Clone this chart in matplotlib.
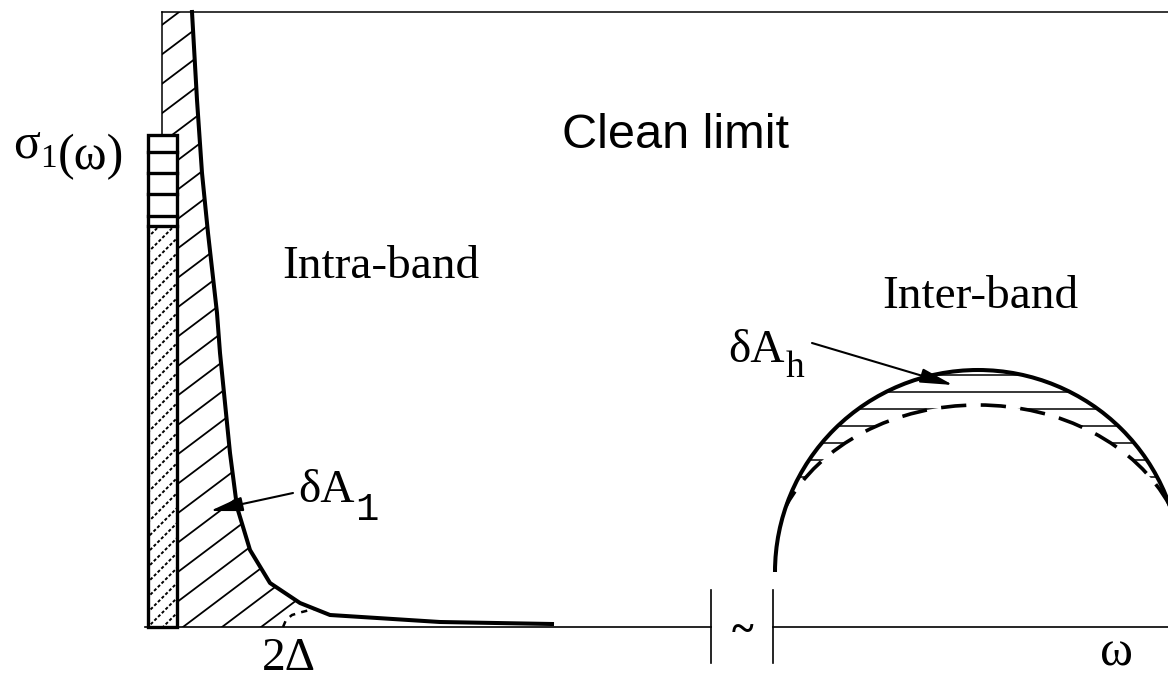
import numpy as np
import matplotlib
matplotlib.use("Agg")
import matplotlib.pyplot as plt
from matplotlib.patches import Polygon, Rectangle, Arc
from matplotlib.collections import LineCollection

# Sketch of sigma_1(omega) in the clean limit. Units: x is frequency, y is conductivity,
# both in plot units (baseline at y = 0).

# intra-band (Drude) curve
drude_w = [192, 197, 202, 208, 217, 220, 225, 230, 237, 250, 270, 300, 330, 440, 552]
drude_s = [615, 527, 454, 394, 314, 274, 224, 174, 120, 77, 44, 24, 12, 5, 3]

# onset above the gap 2Delta (dashed)
gap_w = [283, 286, 292, 302, 314]
gap_s = [0, 7, 12, 15, 18]

# delta-function peak at omega = 0
delta_left, delta_right = 148, 177
delta_top, delta_split = 492, 401
stripe_levels = [475, 454, 433, 411]

# frame
frame_left, frame_top = 162, 615
axis_left, axis_right = 145, 1168
break_left, break_right = 711, 773

# inter-band hump: normal (solid) and superconducting (dashed) half-ellipses
hump_center = (978, 55)
normal_a, normal_b = 203, 202
super_a, super_b = 209, 167

BLACK = "black"
SERIF = "Liberation Serif"


def hatch(ax, verts, angle, spacing, anchor, **kw):
    """Parallel lines across the polygon `verts`, clipped to it."""
    clip = Polygon(verts, closed=True, facecolor="none", edgecolor="none")
    ax.add_patch(clip)
    a = np.radians(angle)
    d = np.array([np.cos(a), np.sin(a)])
    n = np.array([-np.sin(a), np.cos(a)])
    pts = np.asarray(verts, dtype=float)
    c = np.asarray(anchor, dtype=float)
    proj = (pts - c) @ n
    ks = np.arange(np.floor(proj.min() / spacing) - 1, np.ceil(proj.max() / spacing) + 2)
    segs = [[c + k * spacing * n - 2000 * d, c + k * spacing * n + 2000 * d] for k in ks]
    lc = LineCollection(segs, colors=BLACK, **kw)
    ax.add_collection(lc, autolim=False)
    lc.set_clip_path(clip)
    return lc


def subscripted(ax, x, y, base, sub, size, sub_size, sub_drop, sub_family=SERIF, tail=None):
    """Text with a lowered subscript, optionally followed by more text.
    sub_drop is measured from the bottom of the base text's box (in points)."""
    t = ax.text(x, y, base, family=SERIF, fontsize=size)
    s = ax.annotate(sub, xy=(1, 0), xycoords=t, xytext=(0.5, -sub_drop),
                    textcoords="offset points", family=sub_family, fontsize=sub_size,
                    va="baseline")
    if tail:
        ax.annotate(tail, xy=(1, 0), xycoords=t, xytext=(sub_size * 0.55, 0),
                    textcoords="offset points", family=SERIF, fontsize=size, va="baseline")
    return t, s


fig = plt.figure(figsize=(11.68, 6.79), dpi=100)
ax = fig.add_axes([0, 0, 1, 1])
ax.set_xlim(0, 1168)
ax.set_ylim(-52, 627)
ax.axis("off")

# --- hatched Drude weight between the peak and the curve
dw = np.array(drude_w)
ds = np.array(drude_s)
keep = dw <= 300
region = ([(frame_left, frame_top)]
          + list(zip(dw[keep], ds[keep]))
          + list(zip(gap_w[::-1], gap_s[::-1]))
          + [(delta_right, 0), (delta_right, delta_top), (frame_left, delta_top)])
hatch(ax, region, 37, 23.5, (183, 0), linewidths=1.3)

# --- delta peak box
box_lower = [(delta_left, 0), (delta_right, 0), (delta_right, delta_split), (delta_left, delta_split)]
lc = hatch(ax, box_lower, 45, 10.6, (delta_left, 0), linewidths=1.4)
lc.set_linestyle((0, (1.6, 1.1)))
ax.add_patch(Rectangle((delta_left, 0), delta_right - delta_left, delta_top,
                       facecolor="none", edgecolor=BLACK, lw=2.4, zorder=3))
for lev in stripe_levels + [delta_split]:
    ax.plot([delta_left, delta_right], [lev, lev], color=BLACK, lw=2.4, zorder=3)

# --- frame lines
ax.plot([frame_left, axis_right], [frame_top, frame_top], color=BLACK, lw=1.1)
ax.plot([frame_left, frame_left], [frame_top, delta_top], color=BLACK, lw=1.1)
ax.plot([axis_left, break_left], [0, 0], color=BLACK, lw=1.2)
ax.plot([break_right, axis_right], [0, 0], color=BLACK, lw=1.2)
for xb in (break_left, break_right):
    ax.plot([xb, xb], [37, -36], color=BLACK, lw=1.2)
ax.text((break_left + break_right) / 2, -5, "~", family=SERIF, fontsize=30,
        fontweight="bold", ha="center", va="center")

# --- curves
ax.plot(drude_w, drude_s, color=BLACK, lw=2.9, solid_joinstyle="round", zorder=4)
ax.plot(gap_w, gap_s, color=BLACK, lw=1.8, ls=(0, (2.5, 2.5)), zorder=4)

# --- inter-band hump
cx, cy = hump_center
# where the two half-ellipses cross
dx_c = np.sqrt((normal_b ** 2 - super_b ** 2)
               / (normal_b ** 2 / normal_a ** 2 - super_b ** 2 / super_a ** 2))
xs = np.linspace(cx - dx_c, cx + dx_c, 300)
outer = cy + normal_b * np.sqrt(np.clip(1 - ((xs - cx) / normal_a) ** 2, 0, None))
inner = cy + super_b * np.sqrt(np.clip(1 - ((xs - cx) / super_a) ** 2, 0, None))
band = list(zip(xs, outer)) + list(zip(xs[::-1], inner[::-1]))
hatch(ax, band, 0, 17, (cx, 235), linewidths=1.1)

theta_c = np.degrees(np.arctan2(normal_b * np.sqrt(1 - (dx_c / normal_a) ** 2), dx_c))
ax.add_patch(Arc(hump_center, 2 * normal_a, 2 * normal_b, theta1=0, theta2=180,
                 color=BLACK, lw=2.9, zorder=4))
ax.add_patch(Arc(hump_center, 2 * super_a, 2 * super_b, theta1=theta_c, theta2=180 - theta_c,
                 color=BLACK, lw=2.6, ls=(0, (7, 4)), zorder=4))

# --- arrows for the missing spectral weight
arrow = dict(arrowstyle="-|>,head_length=1.0,head_width=0.22", color=BLACK, lw=1.5,
             mutation_scale=20, shrinkA=0, shrinkB=0)
ax.annotate("", xy=(210, 116), xytext=(293, 134), arrowprops=arrow, zorder=5)
ax.annotate("", xy=(953, 242), xytext=(812, 284), arrowprops=arrow, zorder=5)

# --- labels
ax.text(562, 479, "Clean limit", family="Liberation Sans", fontsize=35)
ax.text(282, 349, "Intra-band", family=SERIF, fontsize=34)
ax.text(882, 319, "Inter-band", family=SERIF, fontsize=34)
ax.text(262, -43, "2\u0394", family=SERIF, fontsize=34)
ax.text(1100, -38, "\u03c9", family=SERIF, fontsize=36)

subscripted(ax, 13, 469, "\u03c3", "1", 36, 24, -1.5, tail="(\u03c9)")
subscripted(ax, 298, 125, "\u03b4A", "1", 34, 28, 6, sub_family="Liberation Mono")
subscripted(ax, 728, 265, "\u03b4A", "h", 34, 27, 3.5)

fig.savefig("out.png", dpi=100)
